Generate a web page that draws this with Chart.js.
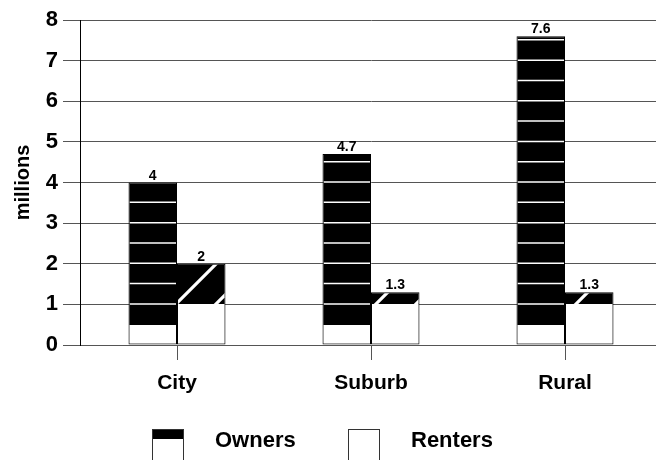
<!DOCTYPE html>
<html>
<head>
<meta charset="utf-8">
<script src="https://cdn.jsdelivr.net/npm/chart.js@4.4.1/dist/chart.umd.min.js"></script>
<style>
html, body { margin: 0; padding: 0; overflow: hidden; background: #fff; }
#wrap { width: 664px; height: 460px; }
</style>
</head>
<body>
<div id="wrap"><canvas id="bar-chart" width="664" height="460"></canvas></div>
<script>
const categories = ["City", "Suburb", "Rural"];
const owners = [4, 4.7, 7.6];
const renters = [2, 1.3, 1.3];
const yTicks = [0, 1, 2, 3, 4, 5, 6, 7, 8];

const FONT = '"Liberation Sans", Arial, sans-serif';

/* white base + stripes inside each bar, then the value on top */
const barPatterns = {
    id: "barPatterns",
    afterDatasetsDraw(chart) {
        const ctx = chart.ctx;
        const yScale = chart.scales.y;
        chart.data.datasets.forEach(function(ds, di) {
            const meta = chart.getDatasetMeta(di);
            meta.data.forEach(function(bar, i) {
                const p = bar.getProps(["x", "y", "base", "width"], true);
                const left = p.x - p.width / 2 + 1;
                const right = p.x + p.width / 2 - 1;
                const top = p.y + 1;
                const bottom = p.base - 1;
                const split = Math.round(yScale.getPixelForValue(ds.whiteBelow));

                ctx.save();
                ctx.fillStyle = "#fff";
                ctx.fillRect(left, split, right - left, bottom - split);

                ctx.beginPath();
                ctx.rect(left, top, right - left, split - top);
                ctx.clip();
                ctx.strokeStyle = "#fff";
                if (ds.pattern === "hlines") {
                    ctx.lineWidth = 1.5;
                    for (let v = ds.whiteBelow + 0.5; v < ds.data[i] - 0.01; v += 0.5) {
                        const py = yScale.getPixelForValue(v) - 0.5;
                        ctx.beginPath();
                        ctx.moveTo(left, py);
                        ctx.lineTo(right, py);
                        ctx.stroke();
                    }
                } else {
                    ctx.lineWidth = 3.2;
                    for (let k = Math.floor((left + top) / 40) * 40; k < right + split + 40; k += 40) {
                        ctx.beginPath();
                        ctx.moveTo(k - split - 5, split + 5);
                        ctx.lineTo(k - top + 5, top - 5);
                        ctx.stroke();
                    }
                }
                ctx.restore();

                ctx.save();
                ctx.fillStyle = "#000";
                ctx.font = "bold 14px " + FONT;
                ctx.textAlign = "center";
                ctx.textBaseline = "alphabetic";
                ctx.fillText(String(ds.data[i]), p.x, p.y - 3);
                ctx.restore();
            });
        });
    }
};

/* legend drawn by hand: swatch + label */
const boxLegend = {
    id: "boxLegend",
    afterDraw(chart) {
        const ctx = chart.ctx;
        const startX = 152;
        const step = 196;
        const top = 429;
        ctx.save();
        chart.data.datasets.forEach(function(ds, di) {
            const x = startX + di * step;
            ctx.fillStyle = "#fff";
            ctx.fillRect(x, top, 32, 40);
            if (ds.pattern === "hlines") {
                ctx.fillStyle = "#000";
                ctx.fillRect(x, top, 32, 10);
            }
            ctx.strokeStyle = "#333";
            ctx.lineWidth = 1;
            ctx.strokeRect(x + 0.5, top + 0.5, 31, 40);

            ctx.fillStyle = "#000";
            ctx.font = "bold 22px " + FONT;
            ctx.textAlign = "left";
            ctx.textBaseline = "alphabetic";
            ctx.fillText(ds.label, x + 63, 447);
        });
        ctx.restore();
    }
};

const barChart = document.querySelector("#bar-chart");

new Chart(barChart, {
    type: "bar",
    data: {
        labels: categories,
        datasets: [{
            label: "Owners",
            data: owners,
            pattern: "hlines",
            whiteBelow: 0.5,
        }, {
            label: "Renters",
            data: renters,
            pattern: "diag",
            whiteBelow: 1,
        }, ],
    },
    options: {
        responsive: false,
        animation: false,
        devicePixelRatio: 1,
        categoryPercentage: 0.5,
        barPercentage: 1,
        backgroundColor: "#000",
        borderColor: "#000",
        borderWidth: 1,
        borderSkipped: false,
        layout: {
            padding: { top: 20, left: 0, right: 2, bottom: 55 },
        },
        scales: {
            x: {
                afterFit: function(scale) { scale.height = 60; },
                grid: {
                    display: true,
                    drawOnChartArea: false,
                    offset: false,
                    tickLength: 15,
                    color: "#555",
                },
                border: { color: "#555" },
                ticks: {
                    color: "#000",
                    padding: 11,
                    font: { family: FONT, size: 21, weight: "bold" },
                },
            },
            y: {
                min: 0,
                max: 8,
                afterFit: function(scale) { scale.width = 80; },
                afterBuildTicks: function(scale) {
                    scale.ticks = yTicks.map(function(v) { return { value: v }; });
                },
                grid: {
                    color: "#555",
                    tickLength: 17,
                },
                border: { color: "#000" },
                ticks: {
                    color: "#000",
                    padding: 5,
                    font: { family: FONT, size: 22, weight: "bold" },
                },
                title: {
                    display: true,
                    text: "millions",
                    color: "#000",
                    padding: { top: 11, bottom: 0 },
                    font: { family: FONT, size: 20, weight: "bold" },
                },
            },
        },
        plugins: {
            legend: { display: false },
            tooltip: { enabled: false },
        },
    },
    plugins: [barPatterns, boxLegend],
});
</script>
</body>
</html>
